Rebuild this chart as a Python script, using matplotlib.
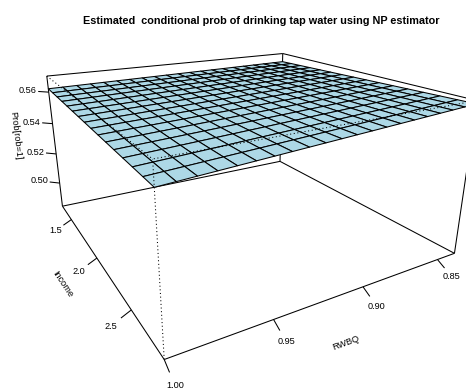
import numpy as np
import matplotlib
matplotlib.use('Agg')
import matplotlib.pyplot as plt
from matplotlib.collections import PolyCollection, LineCollection

plt.rcParams['font.family'] = ['Liberation Sans', 'DejaVu Sans']

# ---------------- data ----------------
title = "Estimated  conditional prob of drinking tap water using NP estimator"
x_label = "RWBQ"
y_label = "Income"
z_label = "Prob[rob=1]"
rwbq_lim = [0.8373, 1.0]
income_lim = [1.2884, 2.8562]
z_lim = [0.4836, 0.5699]
rwbq_ticks = [0.85, 0.90, 0.95, 1.00]
income_ticks = [1.5, 2.0, 2.5]
z_ticks = [0.50, 0.52, 0.54, 0.56]
rwbq_tick_labels = ["0.85", "0.90", "0.95", "1.00"]
income_tick_labels = ["1.5", "2.0", "2.5"]
z_tick_labels = ["0.50", "0.52", "0.54", "0.56"]
# surface heights read at the corners: rows = RWBQ (min, max), cols = Income (min, max)
z_corner = [[0.5638, 0.5682],
            [0.5621, 0.5591]]
n_rwbq = 21
n_income = 16
surface_color = "#ADD8E6"

# ---------------- view (R persp style) ----------------
theta, phi, dist, expand, r = 149.85, 19.86, 0.993, 0.501, np.sqrt(3)
scale_px, off_x, off_y = 557.13, 241.26, 160.63
W, H = 466, 391


def xrot(a):
    c, s = np.cos(np.radians(a)), np.sin(np.radians(a))
    M = np.eye(4)
    M[1, 1] = c; M[2, 1] = -s; M[2, 2] = c; M[1, 2] = s
    return M


def yrot(a):
    c, s = np.cos(np.radians(a)), np.sin(np.radians(a))
    M = np.eye(4)
    M[0, 0] = c; M[2, 0] = s; M[2, 2] = c; M[0, 2] = -s
    return M


S = np.eye(4); S[2, 2] = expand
Tr = np.eye(4); Tr[3, 2] = -r - dist
P = np.eye(4); P[2, 3] = -1 / dist
VT = S @ xrot(-90) @ yrot(-theta) @ xrot(phi) @ Tr @ P


def proj_n(xn, yn, zn):
    xn, yn, zn = np.broadcast_arrays(np.asarray(xn, float), np.asarray(yn, float),
                                     np.asarray(zn, float))
    h = np.stack([xn, yn, zn, np.ones_like(xn)], -1) @ VT
    return h[..., 0] / h[..., 3], h[..., 1] / h[..., 3], h[..., 3]


def norm(v, lim):
    return 2 * (np.asarray(v, float) - lim[0]) / (lim[1] - lim[0]) - 1


fig = plt.figure(figsize=(W / 100, H / 100), dpi=100)
ax = fig.add_axes([0, 0, 1, 1])
ax.set_axis_off()
ax.set_xlim(-off_x / scale_px, (W - off_x) / scale_px)
ax.set_ylim((off_y - H) / scale_px, off_y / scale_px)

# ---------------- box ----------------
corners = [(a, b, c) for a in (-1, 1) for b in (-1, 1) for c in (-1, 1)]
back_edges, front_edges = [], []
for i, p in enumerate(corners):
    for q in corners[i + 1:]:
        if sum(pp != qq for pp, qq in zip(p, q)) == 1:
            X, Y, _ = proj_n([p[0], q[0]], [p[1], q[1]], [p[2], q[2]])
            seg = list(zip(X, Y))
            if (1, 1, 1) in (p, q):
                front_edges.append(seg)
            else:
                back_edges.append(seg)
ax.add_collection(LineCollection(back_edges, colors='black', linewidths=0.75, zorder=1))

# ---------------- surface ----------------
rw = np.linspace(rwbq_lim[0], rwbq_lim[1], n_rwbq)
inc = np.linspace(income_lim[0], income_lim[1], n_income)
zc = np.array(z_corner)
u = (rw - rwbq_lim[0]) / (rwbq_lim[1] - rwbq_lim[0])
v = (inc - income_lim[0]) / (income_lim[1] - income_lim[0])
U, V = np.meshgrid(u, v, indexing='ij')
Z = (zc[0, 0] * (1 - U) * (1 - V) + zc[0, 1] * (1 - U) * V
     + zc[1, 0] * U * (1 - V) + zc[1, 1] * U * V)
RW, INC = np.meshgrid(rw, inc, indexing='ij')
SX, SY, SW = proj_n(norm(RW, rwbq_lim), norm(INC, income_lim), norm(Z, z_lim))
polys, depth = [], []
for i in range(n_rwbq - 1):
    for j in range(n_income - 1):
        idx = [(i, j), (i + 1, j), (i + 1, j + 1), (i, j + 1)]
        polys.append([(SX[a], SY[a]) for a in idx])
        depth.append(np.mean([SW[a] for a in idx]))
order = np.argsort(depth)[::-1]
ax.add_collection(PolyCollection([polys[k] for k in order], facecolors=surface_color,
                                 edgecolors='black', linewidths=0.75, zorder=2))

ax.add_collection(LineCollection(front_edges, colors='black', linewidths=0.75,
                                 linestyles=[(0, (1, 2.5))], zorder=3))

# ---------------- axes ----------------
tick_len = 0.06
fs = 6.6
lims = [rwbq_lim, income_lim, z_lim]


def draw_axis(vals, labels, axis, fixed, tv, name):
    tv = np.array(tv, float)
    for val, lab in zip(vals, labels):
        p = np.array(fixed, float)
        p[axis] = norm(val, lims[axis])
        q = p + tick_len * tv
        t = p + 2.0 * tick_len * tv
        X, Y, _ = proj_n([p[0], q[0]], [p[1], q[1]], [p[2], q[2]])
        ax.plot(X, Y, color='black', lw=0.75, zorder=1, solid_capstyle='butt')
        tx, ty, _ = proj_n(t[0], t[1], t[2])
        ax.text(tx, ty, lab, ha='center', va='center', fontsize=fs)
    m = np.array(fixed, float)
    m[axis] = norm(0.5 * (vals[0] + vals[-1]), lims[axis])
    lp = m + 3.8 * tick_len * tv
    a0 = np.array(fixed, float); a0[axis] = -1
    a1 = np.array(fixed, float); a1[axis] = 1
    X, Y, _ = proj_n([a0[0], a1[0]], [a0[1], a1[1]], [a0[2], a1[2]])
    ang = np.degrees(np.arctan2(Y[1] - Y[0], X[1] - X[0]))
    if ang > 90:
        ang -= 180
    if ang <= -90:
        ang += 180
    tx, ty, _ = proj_n(lp[0], lp[1], lp[2])
    ax.text(tx, ty, name, ha='center', va='center', fontsize=fs, rotation=ang,
            rotation_mode='anchor')


draw_axis(rwbq_ticks, rwbq_tick_labels, 0, (0, 1, -1), (0, 1, -1), x_label)
draw_axis(income_ticks, income_tick_labels, 1, (1, 0, -1), (1, 0, -1), y_label)
draw_axis(z_ticks, z_tick_labels, 2, (1, -1, 0), (1, -1, 0), z_label)

fig.text(261.5 / W, 1 - 24 / H, title, ha='center', va='baseline', fontsize=7.8,
         fontweight='bold')
fig.savefig('out.png', dpi=100)
